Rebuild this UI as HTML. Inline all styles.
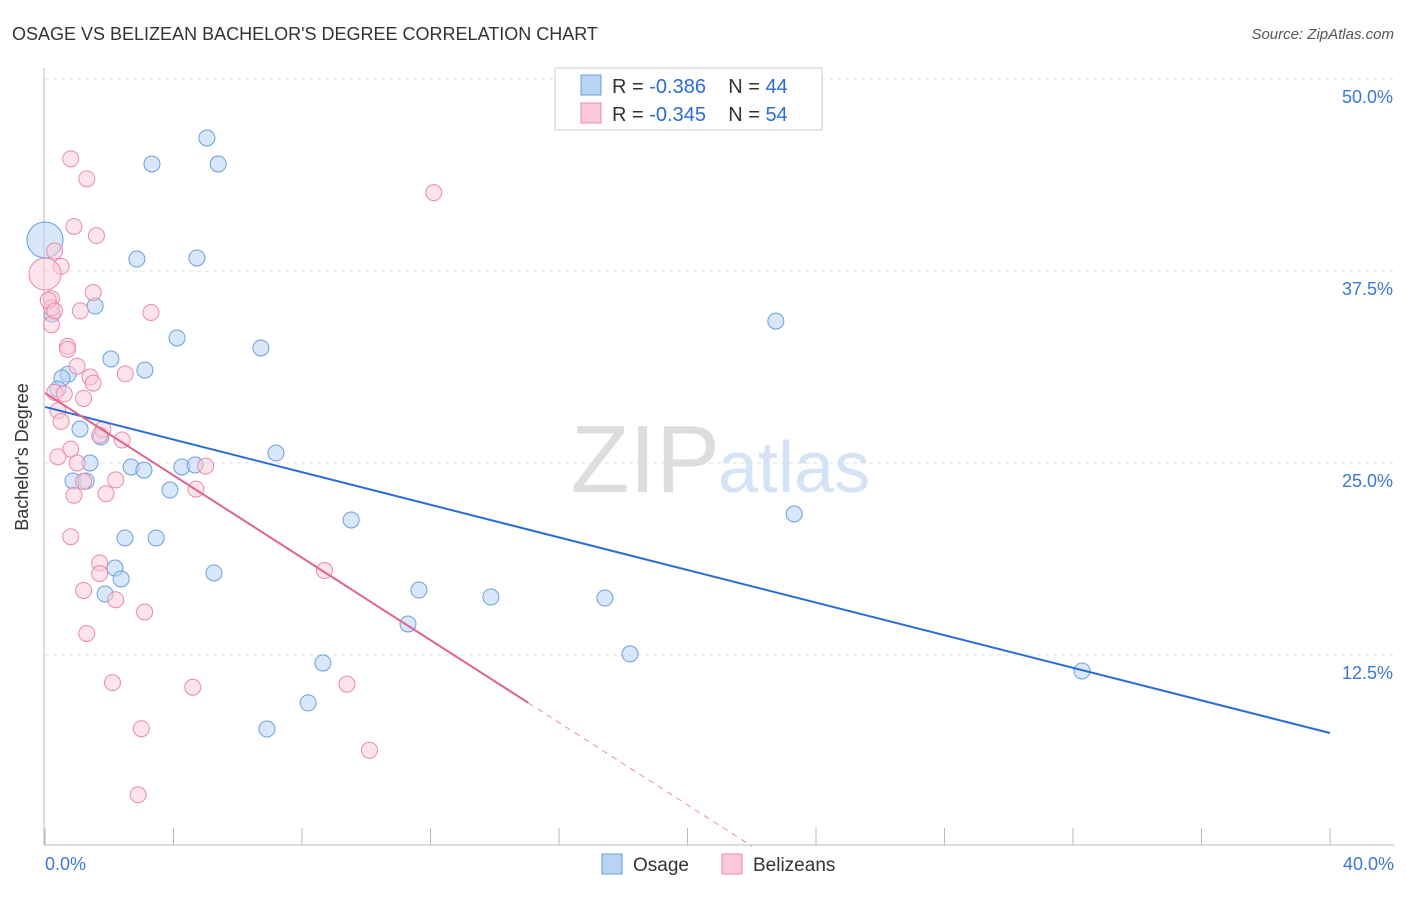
<!DOCTYPE html>
<html><head><meta charset="utf-8"><style>
body{margin:0;background:#fff;font-family:"Liberation Sans",sans-serif;}
svg text{font-family:"Liberation Sans",sans-serif;}
</style></head><body>
<svg id="chart" width="1406" height="892" xmlns="http://www.w3.org/2000/svg">
<text x="12" y="40" font-size="18" fill="#333">OSAGE VS BELIZEAN BACHELOR'S DEGREE CORRELATION CHART</text>
<text x="1394" y="39" font-size="15" fill="#555" font-style="italic" text-anchor="end">Source: ZipAtlas.com</text>
<g id="grid"></g>
<text x="28" y="457" font-size="18" fill="#333" transform="rotate(-90 28 457)" text-anchor="middle">Bachelor's Degree</text>
<text x="720" y="492" font-size="96" fill="#ddd" font-family="Liberation Serif" text-anchor="end">ZIP</text>
<text x="718" y="492" font-size="72" fill="#d4e3f5">atlas</text>
<g id="marks"></g>
<g>
<rect x="555" y="68" width="267" height="62" fill="#fff" stroke="#ccc"/>
<rect x="581" y="75" width="20" height="20" fill="#b8d4f5" stroke="#6a9fe0"/>
<rect x="581" y="103" width="20" height="20" fill="#fbc9d8" stroke="#e98bab"/>
<text x="612" y="93" font-size="20" fill="#333" xml:space="preserve">R = <tspan fill="#2a6dd4">-0.386</tspan>    N = <tspan fill="#2a6dd4">44</tspan></text>
<text x="612" y="121" font-size="20" fill="#333" xml:space="preserve">R = <tspan fill="#2a6dd4">-0.345</tspan>    N = <tspan fill="#2a6dd4">54</tspan></text>
</g>
<g>
<rect x="602" y="854" width="20" height="20" fill="#b8d4f5" stroke="#6a9fe0"/>
<text x="633" y="871" font-size="19" fill="#333">Osage</text>
<rect x="722" y="854" width="20" height="20" fill="#fbc9d8" stroke="#e98bab"/>
<text x="753" y="871" font-size="19" fill="#333">Belizeans</text>
</g>
</svg>
<script>
const yTicks=[12.5,25,37.5,50];
const yTickLabels=["12.5%","25.0%","37.5%","50.0%"];
const xEndLabels=["0.0%","40.0%"];
const osageX=[5.04,3.33,5.39,2.86,4.73,1.56,0.22,4.11,6.72,2.05,3.11,0.72,0.53,0.40,1.09,1.74,1.40,2.68,3.08,4.26,4.67,7.19,0.87,1.28,3.89,9.53,2.49,3.46,2.18,2.37,5.26,1.87,11.64,13.88,17.43,11.30,18.21,8.65,8.19,6.91,22.75,23.32,32.28,0.0];
const osageY=[46.16,44.47,44.47,38.28,38.35,35.22,34.70,33.14,32.49,31.77,31.05,30.79,30.53,29.82,27.21,26.69,25.00,24.74,24.54,24.74,24.87,25.65,23.83,23.83,23.24,21.29,20.12,20.12,18.16,17.45,17.84,16.47,16.73,16.28,16.21,14.52,12.57,11.98,9.38,7.68,34.24,21.68,11.46,39.52];
const belizeX=[0.8,1.3,12.1,0.9,1.6,0.3,0.5,0.2,1.5,0.2,1.1,3.3,0.2,0.7,0.7,1.0,1.4,1.5,2.5,0.3,0.6,1.2,0.4,0.5,1.8,1.7,2.4,0.8,0.4,1.0,5.0,1.2,2.2,4.7,0.9,1.9,0.8,1.7,1.7,1.2,2.2,3.1,1.3,8.7,2.1,4.6,9.4,3.0,10.1,2.9,0.0,0.1,0.3];
const belizeY=[44.8,43.5,42.6,40.4,39.8,38.8,37.8,35.7,36.1,35.1,34.9,34.8,34.0,32.6,32.4,31.3,30.6,30.2,30.8,29.6,29.5,29.2,28.4,27.7,27.2,26.8,26.5,25.9,25.4,25.0,24.8,23.8,23.9,23.3,22.9,23.0,20.2,18.5,17.8,16.7,16.1,15.3,13.9,18.0,10.7,10.4,10.6,7.7,6.3,3.4,37.3,35.6,34.9];
const osageTrend=[28.65,7.42];
const belizeTrend=[29.56,-1.341];
const belizeSolidEnd=15.04;
const belizeDashEnd=22.0;

const NS="http://www.w3.org/2000/svg";
const X0=45,X1=1330,Y0=847,YPER=15.36;
const sx=v=>X0+(X1-X0)*v/40;
const sy=v=>Y0-v*YPER;
function mk(tag,attrs,parent){const e=document.createElementNS(NS,tag);for(const k in attrs)e.setAttribute(k,attrs[k]);parent.appendChild(e);return e;}
const grid=document.getElementById('grid');
const marks=document.getElementById('marks');
yTicks.forEach((t,i)=>{
  const l=mk('line',{x1:45,x2:1394,y1:sy(t),y2:sy(t),stroke:'#ddd','stroke-dasharray':'4,4'},grid);
  
  
  const tx=mk('text',{x:1393,y:sy(t)+24,'font-size':18,fill:'#3b78d4','text-anchor':'end'},grid);
  tx.textContent=yTickLabels[i];
  
  
});
const ax=mk('line',{x1:44,x2:1394,y1:845,y2:845,stroke:'#bbb'},grid);


const ay=mk('line',{x1:44,x2:44,y1:68,y2:845,stroke:'#bbb'},grid);


for(let i=0;i<=10;i++){
  const t=mk('line',{x1:sx(i*4),x2:sx(i*4),y1:828,y2:845,stroke:'#bbb'},grid);
  
  
}
[[0,'start',45],[40,'end',1394]].forEach((d,i)=>{
  const tx=mk('text',{x:d[2],y:870,'font-size':18,fill:'#3b78d4','text-anchor':d[1]},grid);
  tx.textContent=xEndLabels[i];
  
  
});
osageX.forEach((x,i)=>{
  const big=i===osageX.length-1;
  const c=mk('circle',{cx:sx(x),cy:sy(osageY[i]),r:big?18:8,fill:'#b8d4f5','fill-opacity':0.55,stroke:'#6a9fe0','stroke-width':1},marks);
  
  
});
belizeX.forEach((x,i)=>{
  const big=i===belizeX.length-3;
  const c=mk('circle',{cx:sx(x),cy:sy(belizeY[i]),r:big?16:8,fill:'#fbc9d8','fill-opacity':0.5,stroke:'#e98bab','stroke-width':1},marks);
  
  
});
const ol=mk('line',{x1:sx(0),y1:sy(osageTrend[0]),x2:sx(40),y2:sy(osageTrend[1]),stroke:'#2a6dd4','stroke-width':2},marks);


const bl=mk('line',{x1:sx(0),y1:sy(belizeTrend[0]),x2:sx(belizeSolidEnd),y2:sy(belizeTrend[0]+belizeTrend[1]*belizeSolidEnd),stroke:'#e0638f','stroke-width':2},marks);


const bd=mk('line',{x1:sx(belizeSolidEnd),y1:sy(belizeTrend[0]+belizeTrend[1]*belizeSolidEnd),x2:sx(belizeDashEnd),y2:sy(belizeTrend[0]+belizeTrend[1]*belizeDashEnd),stroke:'#e98bab','stroke-width':1,'stroke-dasharray':'6,5'},marks);


</script>
</body></html>
